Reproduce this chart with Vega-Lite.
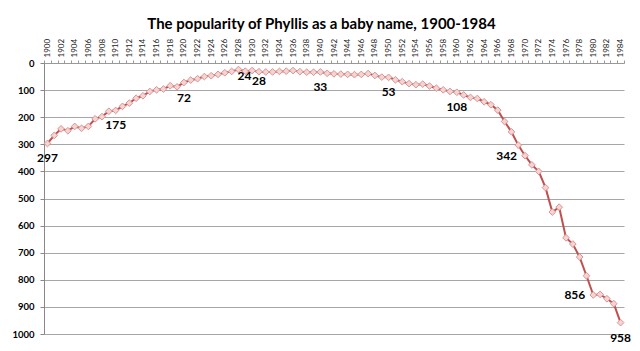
{
  "$schema": "https://vega.github.io/schema/vega-lite/v6.json",
  "width": 580,
  "height": 271,
  "autosize": {"type": "none"},
  "padding": {"left": 44, "top": 63, "right": 16, "bottom": 17},
  "background": "white",
  "title": {"text": "The popularity of Phyllis as a baby name, 1900-1984", "font": "Lato", "fontSize": 15, "fontWeight": "bold", "color": "#000000", "anchor": "middle", "frame": "bounds", "offset": 6},
  "config": {"view": {"stroke": null}},
  "data": {"values": [
    {"year": "1900", "rank": 297}, {"year": "1901", "rank": 267}, {"year": "1902", "rank": 243}, {"year": "1903", "rank": 250},
    {"year": "1904", "rank": 234}, {"year": "1905", "rank": 241}, {"year": "1906", "rank": 234}, {"year": "1907", "rank": 206},
    {"year": "1908", "rank": 198}, {"year": "1909", "rank": 178}, {"year": "1910", "rank": 175}, {"year": "1911", "rank": 160},
    {"year": "1912", "rank": 148}, {"year": "1913", "rank": 130}, {"year": "1914", "rank": 121}, {"year": "1915", "rank": 105},
    {"year": "1916", "rank": 99}, {"year": "1917", "rank": 96}, {"year": "1918", "rank": 84}, {"year": "1919", "rank": 88},
    {"year": "1920", "rank": 72}, {"year": "1921", "rank": 63}, {"year": "1922", "rank": 58}, {"year": "1923", "rank": 50},
    {"year": "1924", "rank": 47}, {"year": "1925", "rank": 42}, {"year": "1926", "rank": 36}, {"year": "1927", "rank": 31},
    {"year": "1928", "rank": 24}, {"year": "1929", "rank": 30}, {"year": "1930", "rank": 28}, {"year": "1931", "rank": 32},
    {"year": "1932", "rank": 33}, {"year": "1933", "rank": 33}, {"year": "1934", "rank": 31}, {"year": "1935", "rank": 30},
    {"year": "1936", "rank": 28}, {"year": "1937", "rank": 32}, {"year": "1938", "rank": 34}, {"year": "1939", "rank": 34},
    {"year": "1940", "rank": 33}, {"year": "1941", "rank": 38}, {"year": "1942", "rank": 40}, {"year": "1943", "rank": 41},
    {"year": "1944", "rank": 42}, {"year": "1945", "rank": 43}, {"year": "1946", "rank": 42}, {"year": "1947", "rank": 39},
    {"year": "1948", "rank": 46}, {"year": "1949", "rank": 52}, {"year": "1950", "rank": 53}, {"year": "1951", "rank": 62},
    {"year": "1952", "rank": 69}, {"year": "1953", "rank": 76}, {"year": "1954", "rank": 80}, {"year": "1955", "rank": 78},
    {"year": "1956", "rank": 85}, {"year": "1957", "rank": 93}, {"year": "1958", "rank": 99}, {"year": "1959", "rank": 105},
    {"year": "1960", "rank": 108}, {"year": "1961", "rank": 118}, {"year": "1962", "rank": 127}, {"year": "1963", "rank": 131},
    {"year": "1964", "rank": 143}, {"year": "1965", "rank": 154}, {"year": "1966", "rank": 174}, {"year": "1967", "rank": 216},
    {"year": "1968", "rank": 254}, {"year": "1969", "rank": 303}, {"year": "1970", "rank": 342}, {"year": "1971", "rank": 376},
    {"year": "1972", "rank": 400}, {"year": "1973", "rank": 460}, {"year": "1974", "rank": 550}, {"year": "1975", "rank": 532},
    {"year": "1976", "rank": 645}, {"year": "1977", "rank": 668}, {"year": "1978", "rank": 716}, {"year": "1979", "rank": 785},
    {"year": "1980", "rank": 856}, {"year": "1981", "rank": 854}, {"year": "1982", "rank": 870}, {"year": "1983", "rank": 888},
    {"year": "1984", "rank": 958}
  ]},
  "encoding": {
    "x": {
      "field": "year", "type": "ordinal",
      "scale": {"type": "band", "paddingInner": 0, "paddingOuter": 0},
      "axis": {
        "orient": "top", "title": null, "labelAngle": -90, "labelFont": "Lato", "labelFontSize": 8,
        "labelColor": "#222222", "labelExpr": "parseInt(datum.value) % 2 == 0 ? datum.value : ''",
        "labelOverlap": false, "tickBand": "extent", "tickSize": 3, "tickColor": "#999999",
        "domainColor": "#999999", "labelPadding": 3, "grid": false
      }
    },
    "y": {
      "field": "rank", "type": "quantitative",
      "scale": {"domain": [0, 1000], "reverse": true, "nice": false},
      "axis": {
        "title": null, "values": [0, 100, 200, 300, 400, 500, 600, 700, 800, 900, 1000], "format": "d",
        "grid": true, "gridColor": "#a6a6a6", "labelFont": "Lato", "labelFontSize": 9.5,
        "labelFontWeight": "bold", "labelColor": "#000000", "tickSize": 4, "tickColor": "#888888",
        "domainColor": "#888888", "labelPadding": 6
      }
    }
  },
  "layer": [
    {"mark": {"type": "line", "color": "#c0504d", "strokeWidth": 2}},
    {"mark": {"type": "point", "shape": "diamond", "size": 45, "filled": true, "fill": "#f5d3d3", "stroke": "#d99594", "strokeWidth": 1, "opacity": 1}},
    {
      "transform": [{"filter": {"field": "year", "oneOf": ["1900", "1910", "1920", "1940", "1950", "1960", "1984"]}}],
      "mark": {"type": "text", "dy": 15, "font": "Lato", "fontSize": 12, "fontWeight": "bold", "color": "#000000"},
      "encoding": {"text": {"field": "rank", "type": "quantitative"}}
    },
    {
      "transform": [{"filter": {"field": "year", "oneOf": ["1970", "1980"]}}],
      "mark": {"type": "text", "align": "right", "dx": -8, "font": "Lato", "fontSize": 12, "fontWeight": "bold", "color": "#000000"},
      "encoding": {"text": {"field": "rank", "type": "quantitative"}}
    },
    {
      "transform": [{"filter": {"field": "year", "equal": "1928"}}],
      "mark": {"type": "text", "align": "left", "dx": -1, "dy": 6, "font": "Lato", "fontSize": 12, "fontWeight": "bold", "color": "#000000"},
      "encoding": {"text": {"field": "rank", "type": "quantitative"}}
    },
    {
      "transform": [{"filter": {"field": "year", "equal": "1930"}}],
      "mark": {"type": "text", "align": "left", "dx": 0, "dy": 10, "font": "Lato", "fontSize": 12, "fontWeight": "bold", "color": "#000000"},
      "encoding": {"text": {"field": "rank", "type": "quantitative"}}
    }
  ]
}
